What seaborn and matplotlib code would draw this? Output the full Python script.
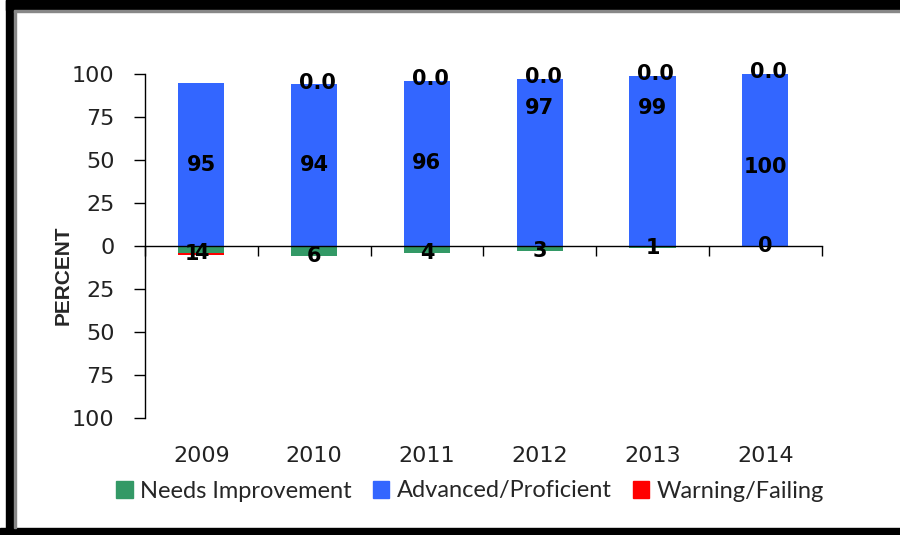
import matplotlib
matplotlib.use("Agg")
import matplotlib.pyplot as plt
import matplotlib.patches as mpatches
from matplotlib.ticker import FixedLocator, FuncFormatter
import seaborn as sns
import pandas as pd

# values
years = ["2009", "2010", "2011", "2012", "2013", "2014"]
advanced = [95, 94, 96, 97, 99, 100]
needs = [4, 6, 4, 3, 1, 0]
warning = [1, 0, 0, 0, 0, 0]
warning_text = ["1", "0.0", "0.0", "0.0", "0.0", "0.0"]
adv_label_at = [47, 47, 48, 80, 80, 46]

green = "#339966"
blue = "#3366FF"
red = "#FF0000"

sns.set_theme(style="white")
plt.rcParams["font.family"] = ["DejaVu Sans"]

df = pd.DataFrame({
    "year": years,
    "adv": advanced,
    "needs": [-n for n in needs],
    "low": [-(n + w) for n, w in zip(needs, warning)],
})

fig = plt.figure(figsize=(9, 5.35), dpi=100)
ax = fig.add_axes([0.161, 0.2187, 0.752, 0.643])

bar_kw = dict(width=0.41, saturation=1, errorbar=None, linewidth=0, ax=ax)
sns.barplot(data=df, x="year", y="adv", color=blue, **bar_kw)
sns.barplot(data=df, x="year", y="low", color=red, **bar_kw)
sns.barplot(data=df, x="year", y="needs", color=green, **bar_kw)

ax.set_xlim(-0.5, 5.5)
ax.set_ylim(-100, 100)
ax.set_xlabel("")
ax.set_ylabel("")
ax.yaxis.set_major_locator(FixedLocator(range(-100, 101, 25)))
ax.yaxis.set_major_formatter(FuncFormatter(lambda v, p: f"{abs(int(v))}"))

# zero line with category ticks, year labels stay at the bottom
ax.spines["top"].set_position(("data", 0))
ax.spines["right"].set_visible(False)
ax.spines["bottom"].set_visible(False)
for s in ["left", "top"]:
    ax.spines[s].set_color("black")
    ax.spines[s].set_linewidth(1)
ax.xaxis.set_minor_locator(FixedLocator([i - 0.5 for i in range(7)]))
ax.tick_params(axis="x", which="minor", top=True, bottom=False, direction="in",
               length=7, width=1, color="black")
ax.tick_params(axis="x", which="major", top=False, bottom=True, length=0,
               labelsize=16, pad=20, labelcolor="#222222")
ax.tick_params(axis="y", left=True, direction="out", length=8, width=1,
               color="black", labelsize=16, pad=14, labelcolor="#222222")

lab_kw = dict(ha="center", va="center", fontsize=15, fontweight="bold", color="black")
for i in range(len(years)):
    ax.text(i, adv_label_at[i], str(advanced[i]), **lab_kw)
    ax.text(i, -needs[i], str(needs[i]), **lab_kw)
    if warning[i] > 0:
        ax.text(i - 0.08, -(needs[i] + warning[i] / 2), warning_text[i], **lab_kw)
    else:
        ax.text(i + 0.03, advanced[i] + 1, warning_text[i], **lab_kw)

fig.text(63 / 900, 1 - 275 / 535, "PERCENT", rotation=90, ha="center", va="center",
         fontsize=15, fontweight="bold", family="Liberation Sans")

handles = [mpatches.Patch(color=green, label="Needs Improvement"),
           mpatches.Patch(color=blue, label="Advanced/Proficient"),
           mpatches.Patch(color=red, label="Warning/Failing")]
fig.legend(handles=handles, loc="center", bbox_to_anchor=(470 / 900, 1 - 491 / 535),
           ncol=3, frameon=False, prop={"family": "Lato", "size": 17},
           handlelength=0.7, handleheight=0.7, handletextpad=0.3, columnspacing=0.9)

# black picture frame
fig.patches.append(mpatches.Rectangle((6 / 900, 0), 8 / 900, 1, transform=fig.transFigure,
                                      color="black", zorder=10))
fig.patches.append(mpatches.Rectangle((6 / 900, 1 - 10 / 535), 1, 10 / 535,
                                      transform=fig.transFigure, color="black", zorder=10))
fig.patches.append(mpatches.Rectangle((0, 0), 1, 7 / 535, transform=fig.transFigure,
                                      color="black", zorder=10))
fig.patches.append(mpatches.Rectangle((14 / 900, 7 / 535), 1.5 / 900, 1 - 18 / 535,
                                      transform=fig.transFigure, color="#888888", zorder=10))
fig.patches.append(mpatches.Rectangle((14 / 900, 1 - 11.5 / 535), 1, 1.5 / 535,
                                      transform=fig.transFigure, color="#888888", zorder=10))

fig.savefig("out.png", dpi=100)
